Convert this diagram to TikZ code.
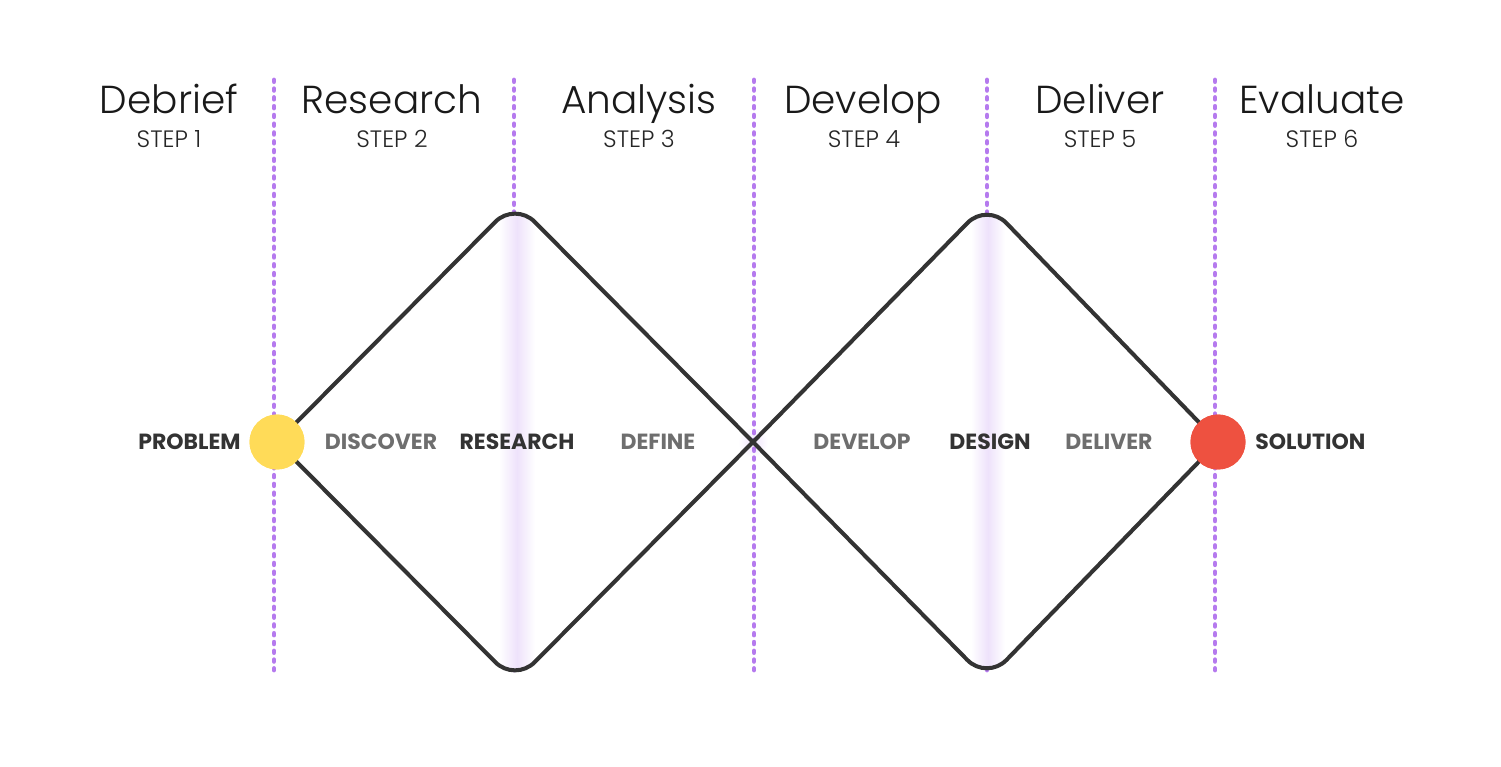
\documentclass[tikz,border=0pt]{standalone}
\usepackage{fontspec}
\setmainfont{Poppins}
\newfontfamily\poplight{Poppins Light}
\usepackage{xcolor}
\usepackage{tikz}
\definecolor{dpurple}{HTML}{B57AEE}
\definecolor{dink}{HTML}{333333}
\definecolor{dgrey}{HTML}{6E6E6E}
\definecolor{dyellow}{HTML}{FFDB58}
\definecolor{dred}{HTML}{EE5140}
\definecolor{dglow}{HTML}{EEE2FB}

\begin{document}
\begin{tikzpicture}[x=0.02cm, y=-0.02cm,
  phase/.style={font=\poplight\fontsize{22.2}{26}\selectfont, text=black!90, inner sep=0pt, anchor=base},
  stepno/.style={font=\poplight\fontsize{13.5}{16}\selectfont, text=black!85, inner sep=0pt, anchor=base},
  keyword/.style={font=\bfseries\fontsize{12.5}{15}\selectfont, text=dink, inner sep=0pt, anchor=base},
  stage/.style={font=\bfseries\fontsize{12.5}{15}\selectfont, text=dgrey, inner sep=0pt, anchor=base},
  divider/.style={dpurple, line width=2.8pt, line cap=round, dash pattern=on 0.9pt off 4.1pt},
  rim/.style={dink, line width=2.3pt, rounded corners=0.56cm},
  dot/.style={circle, inner sep=0pt, minimum size=1.1cm}]
\useasboundingbox (0,0) rectangle (1501,767);
\coordinate (top1) at (515,202);
\coordinate (bot1) at (515,682);
\coordinate (cross) at (753,442);
\coordinate (top2) at (987,203);
\coordinate (bot2) at (987,680);
\shade[inner color=dglow, outer color=white] (cross) circle (0.3cm);
\foreach \x in {274,514,754,987,1215}
  \draw[divider] (\x,80) -- (\x,670);
\node[dot, fill=dyellow] (problem) at (277,442) {};
\node[dot, fill=dred] (solution) at (1218,442) {};
\begin{scope}
  \clip[rounded corners=0.56cm] (problem.center) -- (top1) -- (cross) -- (bot1) -- cycle;
  \shade[left color=white, right color=white, middle color=dglow] (499,190) rectangle (535,690);
\end{scope}
\begin{scope}
  \clip[rounded corners=0.56cm] (cross) -- (top2) -- (solution.center) -- (bot2) -- cycle;
  \shade[left color=white, right color=white, middle color=dglow] (971,190) rectangle (1005,690);
\end{scope}
\draw[rim] (problem.center) -- (top1) -- (cross);
\draw[rim] (problem.center) -- (bot1) -- (cross);
\draw[rim] (cross) -- (top2) -- (solution.center);
\draw[rim] (cross) -- (bot2) -- (solution.center);
\node[dot, fill=dyellow] at (problem) {};
\node[dot, fill=dred] at (solution) {};
\node[phase] (debrief) at (169,113) {Debrief};
\node[stepno] (step1) at (169,148) {STEP 1};
\node[phase] (research) at (392,113) {Research};
\node[stepno] (step2) at (392,148) {STEP 2};
\node[phase] (analysis) at (639,113) {Analysis};
\node[stepno] (step3) at (639,148) {STEP 3};
\node[phase] (develop) at (863,113) {Develop};
\node[stepno] (step4) at (864,148) {STEP 4};
\node[phase] (deliver) at (1100,113) {Deliver};
\node[stepno] (step5) at (1100,148) {STEP 5};
\node[phase] (evaluate) at (1322,113) {Evaluate};
\node[stepno] (step6) at (1322,148) {STEP 6};
\node[keyword, anchor=base east] (problemlbl) at (241,449) {PROBLEM};
\node[stage] (discover) at (381,449) {DISCOVER};
\node[keyword] (researchlbl) at (517,449) {RESEARCH};
\node[stage] (define) at (658,449) {DEFINE};
\node[stage] (developlbl) at (862,449) {DEVELOP};
\node[keyword] (design) at (990,449) {DESIGN};
\node[stage] (deliverlbl) at (1109,449) {DELIVER};
\node[keyword, anchor=base west] (solutionlbl) at (1255,449) {SOLUTION};
\end{tikzpicture}
\end{document}
